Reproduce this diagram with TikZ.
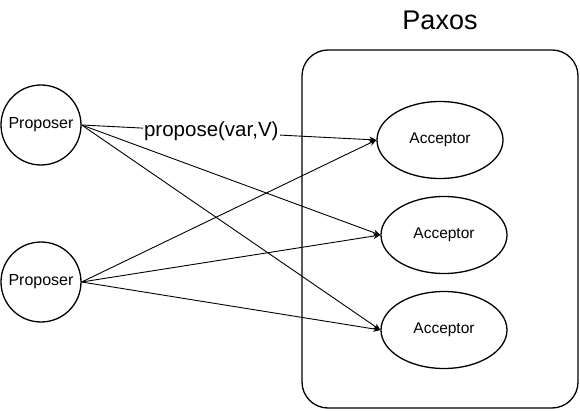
\documentclass[tikz,border=0pt]{standalone}
\usepackage{fontspec}
\setmainfont{Liberation Sans}
\usepackage{tikz}
\usetikzlibrary{arrows.meta, shapes.geometric}

\tikzset{
  proposer/.style={draw, circle, line width=1.3pt, minimum size=80pt, inner sep=0pt, font=\fontsize{16}{18}\selectfont},
  acceptor/.style={draw, ellipse, line width=1.3pt, minimum width=126pt, minimum height=77pt, font=\fontsize{15.5}{18}\selectfont},
  msg/.style={-{Stealth[length=7pt,width=6pt]}, line width=0.9pt},
}

\begin{document}
\begin{tikzpicture}[x=1pt, y=-1pt]
  \useasboundingbox (0,0) rectangle (580,411);

  % the Paxos group
  \node[draw, rounded corners=26pt, line width=1.3pt, minimum width=276pt, minimum height=358pt] (group) at (440,229) {};
  \node[font=\fontsize{27}{30}\selectfont] (title) at (440,20) {Paxos};

  \node[acceptor] (A1) at (440,140) {Acceptor};
  \node[acceptor] (A2) at (444,235) {Acceptor};
  \node[acceptor] (A3) at (444,330) {Acceptor};

  \node[proposer] (P1) at (41,125) {Proposer};
  \node[proposer] (P2) at (41,282) {Proposer};

  % messages from the proposers
  \draw[msg] (P1.east) -- node[pos=0.44, fill=white, inner sep=1pt, font=\fontsize{20.5}{23}\selectfont] (lbl) {propose(var,V)} (A1.west);
  \draw[msg] (P1.east) -- (A2.west);
  \draw[msg] (P1.east) -- (A3.west);
  \draw[msg] (P2.east) -- (A1.west);
  \draw[msg] (P2.east) -- (A2.west);
  \draw[msg] (P2.east) -- (A3.west);
\end{tikzpicture}
\end{document}
